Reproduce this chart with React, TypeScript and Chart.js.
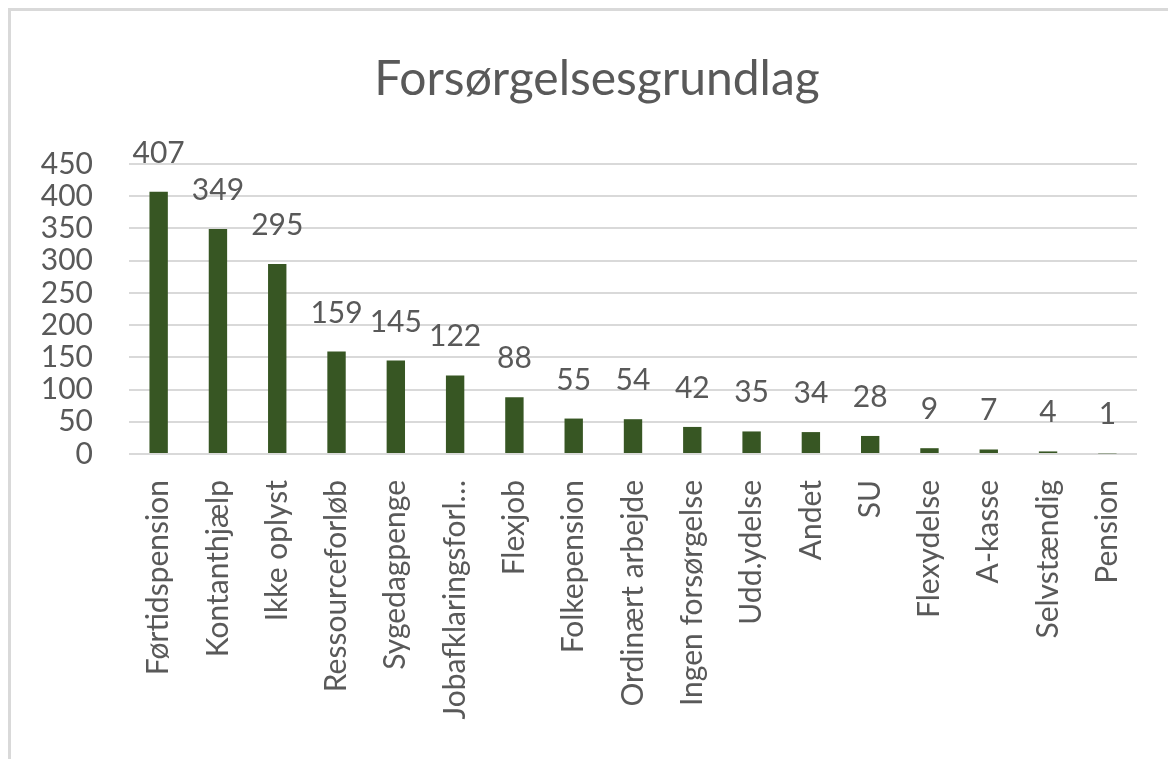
import React, { useEffect, useRef } from "react";
import { Chart, registerables } from "chart.js";

Chart.register(...registerables);

const chartTitle = "Forsørgelsesgrundlag";
const categories = [
  "Førtidspension",
  "Kontanthjælp",
  "Ikke oplyst",
  "Ressourceforløb",
  "Sygedagpenge",
  "Jobafklaringsforl…",
  "Flexjob",
  "Folkepension",
  "Ordinært arbejde",
  "Ingen forsørgelse",
  "Udd.ydelse",
  "Andet",
  "SU",
  "Flexydelse",
  "A-kasse",
  "Selvstændig",
  "Pension",
];
const values = [407, 349, 295, 159, 145, 122, 88, 55, 54, 42, 35, 34, 28, 9, 7, 4, 1];
const yMin = 0;
const yMax = 450;
const yStep = 50;

const FONT = "Lato, 'Open Sans', sans-serif";
const TEXT = "#595959";
const GRID = "#d9d9d9";
const BAR = "#375623";

export default function App() {
  const ref = useRef<HTMLCanvasElement | null>(null);

  useEffect(() => {
    if (!ref.current) return;
    document.body.style.overflow = "hidden";

    const titlePlugin = {
      id: "customTitle",
      afterDraw(chart: any) {
        const ctx = chart.ctx;
        ctx.save();
        ctx.font = `48px ${FONT}`;
        ctx.fillStyle = TEXT;
        ctx.textAlign = "center";
        ctx.textBaseline = "alphabetic";
        ctx.fillText(chartTitle, 586, 84);
        ctx.restore();
      },
    };

    const labelPlugin = {
      id: "barLabels",
      afterDatasetsDraw(chart: any) {
        const ctx = chart.ctx;
        const meta = chart.getDatasetMeta(0);
        ctx.save();
        ctx.font = `30px ${FONT}`;
        ctx.fillStyle = TEXT;
        ctx.textAlign = "center";
        ctx.textBaseline = "alphabetic";
        meta.data.forEach((bar: any, i: number) => {
          ctx.fillText(String(values[i]), bar.x, bar.y - 29);
        });
        ctx.restore();
      },
    };

    const chart = new Chart(ref.current, {
      type: "bar",
      data: {
        labels: categories,
        datasets: [
          {
            data: values,
            backgroundColor: BAR,
            barPercentage: 0.31,
            categoryPercentage: 1,
          },
        ],
      },
      options: {
        responsive: false,
        animation: false,
        layout: { padding: { top: 153, right: 39, bottom: 0, left: 0 } },
        plugins: {
          legend: { display: false },
          title: { display: false },
          tooltip: { enabled: false },
        },
        scales: {
          x: {
            grid: { display: false, drawTicks: false },
            border: { display: false },
            ticks: {
              autoSkip: false,
              maxRotation: 90,
              minRotation: 90,
              padding: 26,
              color: TEXT,
              font: { family: FONT, size: 30 },
            },
            afterFit(scale: any) {
              scale.height = 305;
            },
          },
          y: {
            min: yMin,
            max: yMax,
            grid: { color: GRID, lineWidth: 2, drawTicks: false },
            border: { display: false },
            ticks: {
              stepSize: yStep,
              autoSkip: false,
              maxTicksLimit: 20,
              padding: 36,
              color: TEXT,
              font: { family: FONT, size: 30, lineHeight: 0.8 },
            },
            afterFit(scale: any) {
              scale.width = 118;
            },
          },
        },
      },
      plugins: [titlePlugin, labelPlugin],
    });

    return () => chart.destroy();
  }, []);

  return (
    <div
      style={{
        width: 1168,
        height: 751,
        borderTop: `3px solid ${GRID}`,
        borderLeft: `3px solid ${GRID}`,
        boxSizing: "border-box",
        background: "#fff",
      }}
    >
      <canvas ref={ref} width={1165} height={748} style={{ display: "block" }} />
    </div>
  );
}
